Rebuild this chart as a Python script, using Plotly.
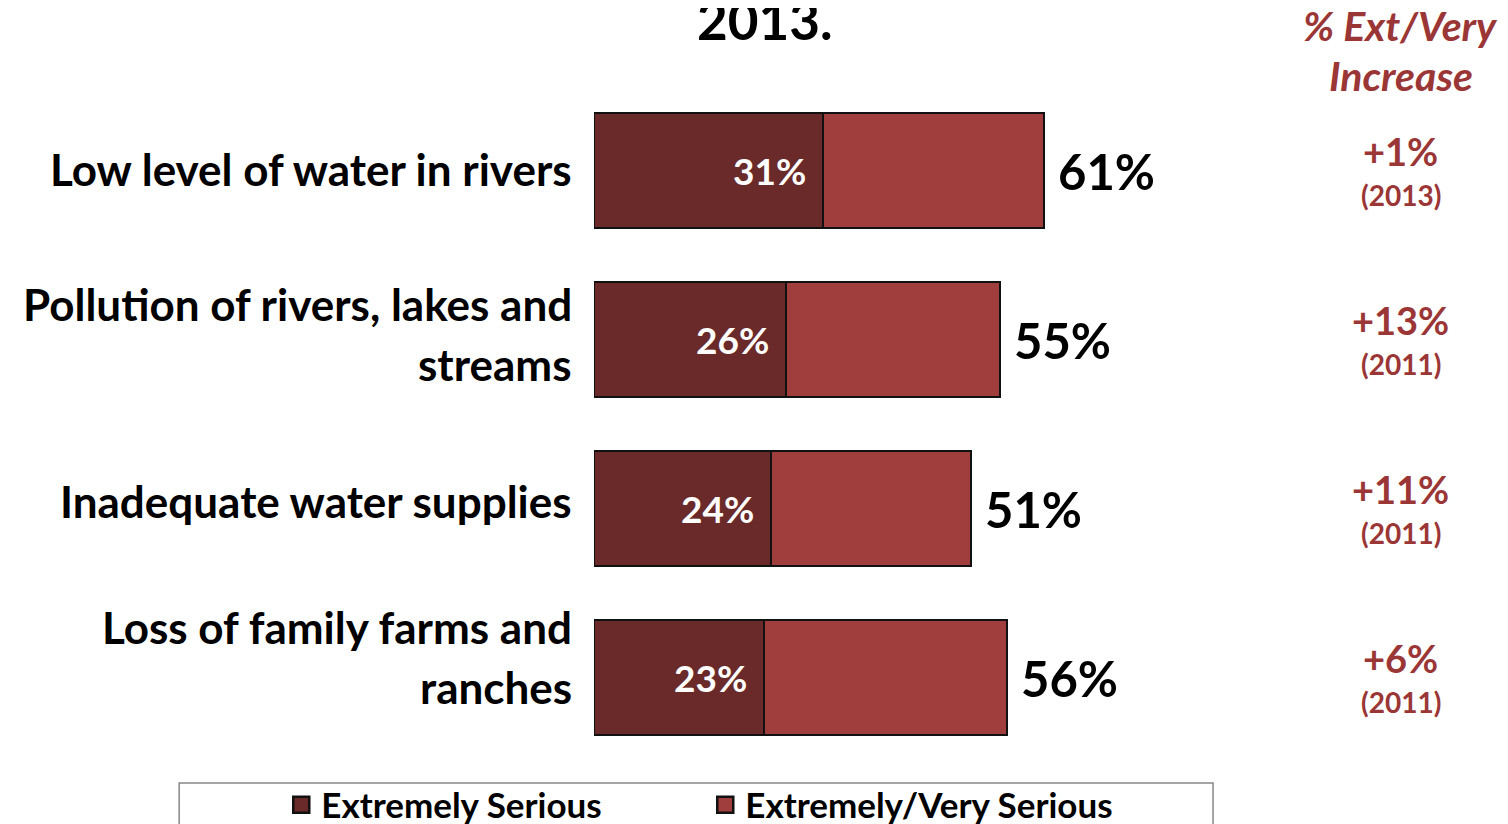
import plotly.graph_objects as go

categories = ["Low level of water in rivers",
              "Pollution of rivers, lakes and<br>streams",
              "Inadequate water supplies",
              "Loss of family farms and<br>ranches"]
extremely_serious = [31, 26, 24, 23]
ext_very_serious = [61, 55, 51, 56]
increase = ["+1%", "+13%", "+11%", "+6%"]
increase_year = ["(2013)", "(2011)", "(2011)", "(2011)"]

# layout-only vertical nudges (pixels) of the category labels
label_nudge = [2, 6, 8, 21]

FONT = "Lato"
DARK = "#6B2A2A"
LIGHT = "#A03D3D"
RED_TXT = "#9B3636"

very_part = [t - e for t, e in zip(ext_very_serious, extremely_serious)]

fig = go.Figure()
fig.add_trace(go.Bar(
    y=categories, x=extremely_serious, orientation="h", name="Extremely Serious",
    marker=dict(color=DARK, line=dict(color="#111111", width=2)),
    width=0.675, showlegend=False,
))
fig.add_trace(go.Bar(
    y=categories, x=very_part, orientation="h", name="Extremely/Very Serious",
    marker=dict(color=LIGHT, line=dict(color="#111111", width=2)),
    width=0.675, showlegend=False,
))
# legend entries
for nm, col in [("Extremely Serious", DARK), ("Extremely/Very Serious", LIGHT)]:
    fig.add_trace(go.Scatter(
        x=[None], y=[None], mode="markers", name=nm,
        marker=dict(symbol="square", size=22, color=col,
                    line=dict(color="#111111", width=2.5)),
    ))

annotations = []
for k, (cat, es, tot, inc, yr) in enumerate(zip(categories, extremely_serious,
                                                ext_very_serious, increase, increase_year)):
    annotations.append(dict(x=es, y=cat, xref="x", yref="y", text=f"<b>{es}%</b>",
                            showarrow=False, xanchor="right", xshift=-15,
                            font=dict(family=FONT, size=37, color="white")))
    annotations.append(dict(x=tot, y=cat, xref="x", yref="y", text=f"<b>{tot}%</b>",
                            showarrow=False, xanchor="left", xshift=12,
                            font=dict(family=FONT, size=49, color="black")))
    lines = cat.split("<br>")
    n = len(lines)
    for i, ln in enumerate(lines):
        annotations.append(dict(x=0, y=cat, xref="paper", yref="y", text=f"<b>{ln}</b>",
                                showarrow=False, xanchor="right", xshift=-20,
                                yshift=(n - 1) * 30 - i * 60 + label_nudge[k],
                                font=dict(family=FONT, size=44, color="black")))
    annotations.append(dict(x=1.13, y=cat, xref="paper", yref="y",
                            text=f"<b>{inc}</b>", showarrow=False, xanchor="center",
                            yshift=20, font=dict(family=FONT, size=38, color=RED_TXT)))
    annotations.append(dict(x=1.13, y=cat, xref="paper", yref="y",
                            text=f"<b>{yr}</b>", showarrow=False, xanchor="center",
                            yshift=-24, font=dict(family=FONT, size=28, color=RED_TXT)))

annotations.append(dict(x=1.13, y=1.0892, xref="paper", yref="paper",
                        text="<b><i>% Ext/Very</i></b>", showarrow=False,
                        xanchor="center", yanchor="middle",
                        font=dict(family=FONT, size=41, color=RED_TXT)))
annotations.append(dict(x=1.13, y=1.0148, xref="paper", yref="paper",
                        text="<b><i>Increase</i></b>", showarrow=False,
                        xanchor="center", yanchor="middle",
                        font=dict(family=FONT, size=41, color=RED_TXT)))
annotations.append(dict(x=0.239, y=1.099, xref="paper", yref="paper",
                        text="<b>2013.</b>", showarrow=False,
                        xanchor="center", yanchor="middle",
                        font=dict(family=FONT, size=53, color="black")))

fig.update_layout(
    width=1500, height=816,
    margin=dict(l=586, r=200, t=78, b=62, autoexpand=False),
    barmode="stack",
    plot_bgcolor="white", paper_bgcolor="white",
    xaxis=dict(range=[0, 96.7], visible=False),
    yaxis=dict(visible=False, autorange="reversed"),
    annotations=annotations,
    showlegend=True,
    legend=dict(orientation="h", x=-0.438, y=-0.0636, xanchor="left", yanchor="middle",
                font=dict(family=FONT, size=35, color="black", weight="bold"),
                entrywidth=379, itemsizing="trace", traceorder="normal",
                bgcolor="rgba(0,0,0,0)"),
    shapes=[dict(type="rect", xref="paper", yref="paper", x0=-0.581, x1=0.867,
                 y0=-0.031, y1=-0.2, line=dict(color="#888888", width=1.5))],
)

fig.write_html("out.html")
